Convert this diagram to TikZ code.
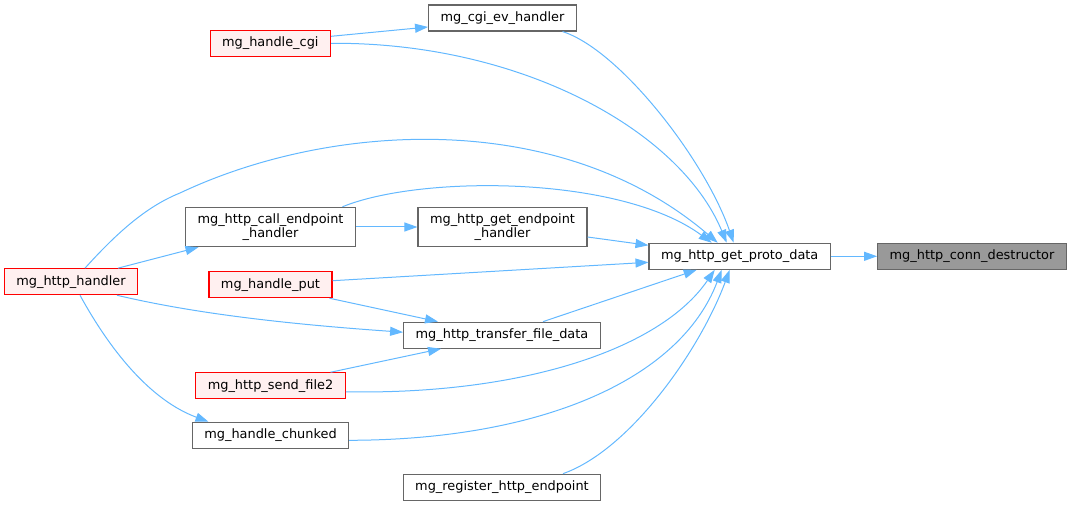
\documentclass[tikz,border=0pt]{standalone}
\usepackage{fontspec}
\setmainfont{DejaVu Sans}
\usetikzlibrary{arrows.meta}
\definecolor{edgeblue}{HTML}{63B8FF}
\definecolor{redfill}{HTML}{FFF0F0}
\definecolor{boxgrey}{HTML}{666666}
\definecolor{rootfill}{HTML}{999999}
\begin{document}
\begin{tikzpicture}[x=1pt, y=-1pt, font=\fontsize{12.9}{14.5}\selectfont,
      fn/.style={draw=boxgrey, fill=white, line width=1.1pt, inner xsep=12pt, inner ysep=6pt, minimum height=26pt, align=center},
      fnred/.style={fn, draw=red, fill=redfill},
      call/.style={draw=edgeblue, line width=1pt, -{Triangle[length=13pt, width=9pt]}}]
      \useasboundingbox (0,0) rectangle (1071,505);
      \node[fn, fill=rootfill] (d) at (972,256.3) {mg\_http\_conn\_destructor};
      \node[fn] (p) at (739.7,256.3) {mg\_http\_get\_proto\_data};
      \node[fn] (c) at (502.5,18) {mg\_cgi\_ev\_handler};
      \node[fnred] (hc) at (270.3,43.3) {mg\_handle\_cgi};
      \node[fn] (ce) at (270.5,227) {mg\_http\_call\_endpoint\\\_handler};
      \node[fn] (ge) at (502.5,227) {mg\_http\_get\_endpoint\\\_handler};
      \node[fnred] (h) at (71,281.7) {mg\_http\_handler};
      \node[fnred] (hp) at (270.5,284.7) {mg\_handle\_put};
      \node[fn] (t) at (502,335.2) {mg\_http\_transfer\_file\_data};
      \node[fnred] (s) at (270.5,385.8) {mg\_http\_send\_file2};
      \node[fn] (k) at (270.5,435.3) {mg\_handle\_chunked};
      \node[fn] (r) at (502,487.2) {mg\_register\_http\_endpoint};
      \draw[call] (p) -- (d);
      \draw[call] ([xshift=60]c.south) .. controls (620,50) and (705,160) .. ([xshift=-6]p.north);
      \draw[call] (hc.east) .. controls (520,42) and (680,130) .. ([xshift=-13]p.north);
      \draw[call] ([yshift=7]hc.east) -- ([yshift=-9]c.west);
      \draw[call] ([xshift=14]h.north) .. controls (115,235) and (145,207) .. (180,193) .. controls (330,122) and (560,108) .. ([xshift=-22]p.north);
      \draw[call] ([xshift=47]h.north) -- ([xshift=-72]ce.south);
      \draw[call] ([xshift=72]ce.north) .. controls (420,175) and (620,175) .. ([xshift=-28]p.north);
      \draw[call] (ce.east) -- (ge.west);
      \draw[call] ([yshift=-10]ge.east) -- ([yshift=11]p.west);
      \draw[call] ([yshift=4]hp.east) -- ([yshift=-6]p.west);
      \draw[call] ([xshift=59]hp.south) -- ([xshift=-64]t.north);
      \draw[call] ([xshift=46]h.south) .. controls (200,315) and (300,325) .. ([yshift=3]t.west);
      \draw[call] ([xshift=60]s.north) -- ([xshift=-61]t.south);
      \draw[call] ([xshift=41]t.north) -- ([xshift=-43]p.south);
      \draw[call] ([yshift=-6]s.east) .. controls (520,395) and (660,350) .. ([xshift=-25]p.south);
      \draw[call] ([xshift=9]h.south) .. controls (110,350) and (150,400) .. ([xshift=-62]k.north);
      \draw[call] ([yshift=-5]k.east) .. controls (540,440) and (680,380) .. ([xshift=-18]p.south);
      \draw[call] ([xshift=61]r.north) .. controls (630,450) and (700,350) .. ([xshift=-10]p.south);
   \end{tikzpicture}
\end{document}
